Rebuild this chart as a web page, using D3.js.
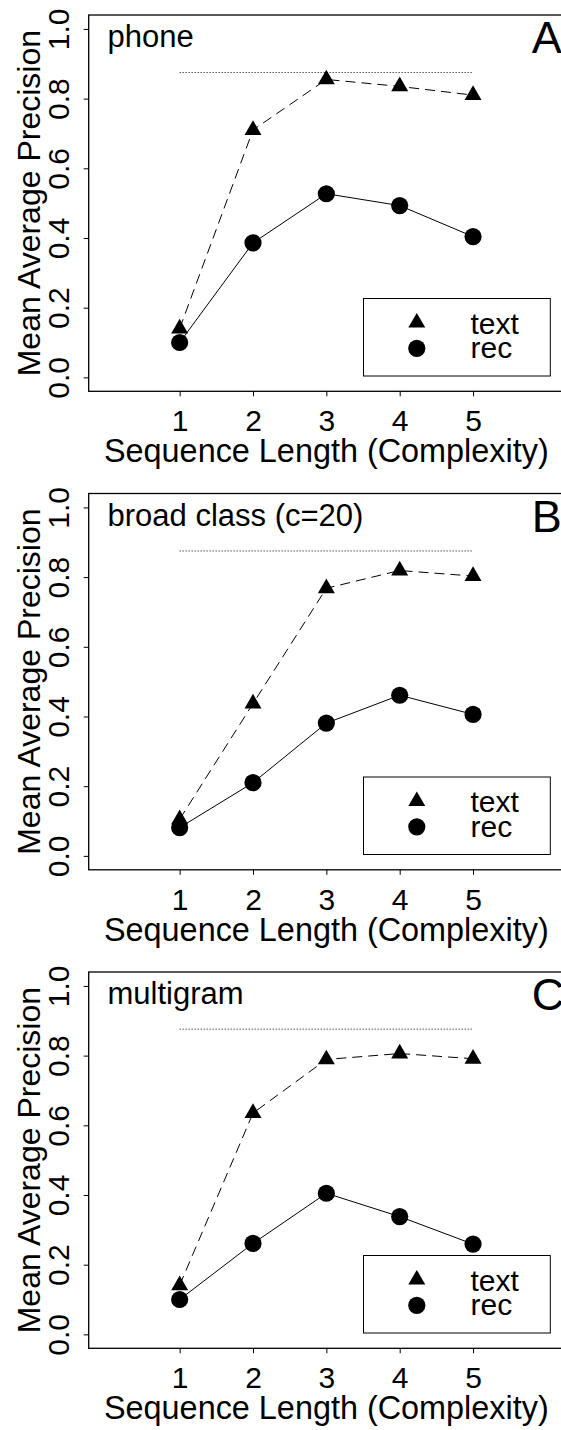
<!DOCTYPE html>
<html>
<head>
<meta charset="utf-8">
<script src="https://cdn.jsdelivr.net/npm/d3@7"></script>
<style>
  html, body { margin: 0; padding: 0; background: #fff; }
  svg { display: block; }
  text { font-family: "Liberation Sans", Arial, Helvetica, sans-serif; fill: #000; }
</style>
</head>
<body>
<svg id="chart" width="561" height="1430"></svg>
<script>
// ---------- data ----------
const categories = [1, 2, 3, 4, 5];
const panelLabels = ["phone", "broad class (c=20)", "multigram"];
const panelLetters = ["A", "B", "C"];
const textA = [0.140, 0.710, 0.855, 0.835, 0.810];
const recA  = [0.100, 0.386, 0.527, 0.493, 0.404];
const textB = [0.105, 0.437, 0.768, 0.819, 0.803];
const recB  = [0.081, 0.210, 0.381, 0.461, 0.406];
const textC = [0.141, 0.635, 0.789, 0.806, 0.791];
const recC  = [0.100, 0.261, 0.405, 0.338, 0.259];
const referenceLevel = [0.875, 0.875, 0.876];
const yTicks = [0.0, 0.2, 0.4, 0.6, 0.8, 1.0];
const yTickLabels = ["0.0", "0.2", "0.4", "0.6", "0.8", "1.0"];
const legendLabels = ["text", "rec"];
const xTitle = "Sequence Length (Complexity)";
const yTitle = "Mean Average Precision";

const textSeries = [textA, textB, textC];
const recSeries = [recA, recB, recC];

// ---------- layout ----------
const panelOffsets = [0, 478.5, 957];
const box = { left: 88.7, right: 564, top: 15, bottom: 391.3 };

const x = d3.scaleLinear().domain([-0.24, 6.24]).range([box.left, box.right]);
const y = d3.scaleLinear().domain([-0.04, 1.04]).range([box.bottom, box.top]);

const svg = d3.select("#chart");
const triangle = d3.symbol().type(d3.symbolTriangle).size(125);

panelOffsets.forEach((off, i) => {
  const g = svg.append("g").attr("transform", `translate(0,${off})`);

  // y axis
  const yAxis = d3.axisLeft(y).tickValues(yTicks).tickSize(5).tickPadding(0)
    .tickFormat((d, k) => yTickLabels[k]);
  const ya = g.append("g").attr("transform", `translate(${box.left},0)`).call(yAxis);
  ya.select(".domain").remove();
  ya.selectAll(".tick line").attr("stroke", "#000").attr("stroke-width", 1);
  ya.selectAll(".tick text")
    .attr("x", null).attr("dy", null)
    .attr("transform", "translate(-20,0) rotate(-90)")
    .attr("text-anchor", "middle")
    .style("font-size", "30px");

  // x axis
  const xAxis = d3.axisBottom(x).tickValues(categories).tickSize(5).tickPadding(0)
    .tickFormat(d3.format("d"));
  const xa = g.append("g").attr("transform", `translate(0,${box.bottom})`).call(xAxis);
  xa.select(".domain").remove();
  xa.selectAll(".tick line").attr("stroke", "#000").attr("stroke-width", 1);
  xa.selectAll(".tick text")
    .attr("y", 39.8).attr("dy", null)
    .style("font-size", "30px");

  // box
  g.append("rect")
    .attr("x", box.left).attr("y", box.top)
    .attr("width", box.right - box.left).attr("height", box.bottom - box.top)
    .attr("fill", "none").attr("stroke", "#000").attr("stroke-width", 1.3);

  // titles
  g.append("text")
    .attr("x", (box.left + box.right) / 2).attr("y", 462)
    .attr("text-anchor", "middle")
    .style("font-size", "32.4px")
    .text(xTitle);
  g.append("text")
    .attr("transform", `translate(39.5,${(box.top + box.bottom) / 2}) rotate(-90)`)
    .attr("text-anchor", "middle")
    .style("font-size", "32px")
    .text(yTitle);

  // panel label and letter
  g.append("text").attr("x", 107.5).attr("y", 47).style("font-size", "31px").text(panelLabels[i]);
  g.append("text").attr("x", 531.7).attr("y", 53.3).style("font-size", "45px").text(panelLetters[i]);

  // reference dotted line
  g.append("line")
    .attr("x1", x(categories[0])).attr("x2", x(categories[categories.length - 1]))
    .attr("y1", y(referenceLevel[i])).attr("y2", y(referenceLevel[i]))
    .attr("stroke", "#000").attr("stroke-width", 1).attr("stroke-dasharray", "1,2");

  const line = d3.line().x((d, k) => x(categories[k])).y(d => y(d));

  // text series (dashed)
  g.append("path").datum(textSeries[i]).attr("d", line)
    .attr("fill", "none").attr("stroke", "#000").attr("stroke-width", 1)
    .attr("stroke-dasharray", "10,6");
  // rec series (solid)
  g.append("path").datum(recSeries[i]).attr("d", line)
    .attr("fill", "none").attr("stroke", "#000").attr("stroke-width", 1);

  g.selectAll(".tri").data(textSeries[i]).enter().append("path")
    .attr("d", triangle)
    .attr("transform", (d, k) => `translate(${x(categories[k])},${y(d)})`)
    .attr("fill", "#000");
  g.selectAll(".dot").data(recSeries[i]).enter().append("circle")
    .attr("cx", (d, k) => x(categories[k])).attr("cy", d => y(d))
    .attr("r", 8.6).attr("fill", "#000");

  // legend
  const lg = g.append("g");
  lg.append("rect").attr("x", 363.5).attr("y", 298.5).attr("width", 186.8).attr("height", 77.5)
    .attr("fill", "#fff").attr("stroke", "#000").attr("stroke-width", 1);
  lg.append("path").attr("d", triangle).attr("transform", "translate(416.8,322.7)").attr("fill", "#000");
  lg.append("circle").attr("cx", 416.8).attr("cy", 348.3).attr("r", 8.6).attr("fill", "#000");
  lg.append("text").attr("x", 470.5).attr("y", 333.8).style("font-size", "30px").text(legendLabels[0]);
  lg.append("text").attr("x", 470.5).attr("y", 358.3).style("font-size", "30px").text(legendLabels[1]);
});
</script>
</body>
</html>
